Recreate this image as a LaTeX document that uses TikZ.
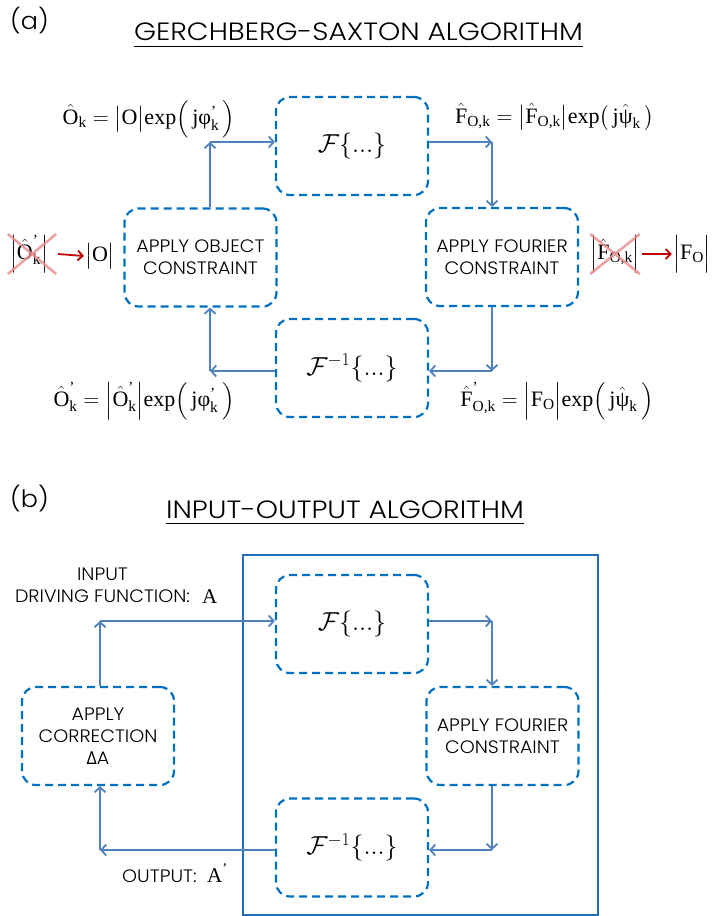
\documentclass[tikz,border=0pt]{standalone}
\usepackage{fix-cm}
\usepackage{amsmath}
\usepackage{fontspec}
\setmainfont{Liberation Serif}
\newfontfamily\gothic{Poppins Light}[FakeStretch=1.06]
\newfontfamily\gothictitle{Poppins Light}[FakeStretch=1.13]
\newfontfamily\greek{Open Sans}
\usetikzlibrary{arrows.meta, positioning, calc}
\definecolor{boxblue}{RGB}{0,112,192}
\definecolor{arrowblue}{RGB}{79,129,189}
\definecolor{frameblue}{RGB}{30,110,185}
\definecolor{darkred}{RGB}{192,0,0}
\definecolor{crossred}{RGB}{232,140,140}
\newcommand{\tx}[1]{\text{#1}}
\newcommand{\prm}{^{\text{'}}}

\begin{document}
\begin{tikzpicture}[x=1pt,y=-1pt,
	stepbox/.style={draw=boxblue, line width=2.2pt, dash pattern=on 8pt off 5pt,
		rounded corners=14pt, minimum width=152pt, minimum height=98pt,
		inner sep=0pt, align=center, font=\gothic\fontsize{18}{22}\selectfont},
	opbox/.style={stepbox, font=\fontsize{26}{30}\selectfont},
	link/.style={draw=arrowblue, line width=1.8pt, -{Straight Barb[length=5pt,width=11pt]}},
	redlink/.style={draw=darkred, line width=1.8pt, -{Straight Barb[length=5pt,width=10pt]}},
	crossout/.style={draw=crossred, line width=2.6pt, opacity=0.8},
	formula/.style={inner sep=0pt, font=\fontsize{22}{26}\selectfont},
	lbl/.style={inner sep=0pt, align=center, font=\gothic\fontsize{18}{22}\selectfont},
	partlbl/.style={inner sep=0pt, font=\gothic\fontsize{24}{28}\selectfont},
	heading/.style={inner sep=0pt, font=\gothictitle\fontsize{25}{28}\selectfont},
	uline/.style={line width=1.6pt},
	var/.style={inner sep=0pt, font=\fontsize{21}{24}\selectfont}
	]
	\useasboundingbox (0,0) rectangle (716,916);

	% (a) Gerchberg-Saxton
	\node[partlbl, anchor=north west] (parta) at (10,7) {(a)};
	\node[heading, anchor=base] (gstitle) at (358.5,40) {GERCHBERG-SAXTON ALGORITHM};
	\draw[uline] ([yshift=-6.5pt]gstitle.base west) -- ([yshift=-6.5pt]gstitle.base east);

	\node[opbox] (fa) at (352,146) {$\mathcal{F}\{...\}$};
	\node[stepbox] (ao) at (200.5,257.5) {APPLY OBJECT\\CONSTRAINT};
	\node[stepbox] (af) at (502,257) {APPLY FOURIER\\CONSTRAINT};
	\node[opbox] (fia) at (352,368) {$\mathcal{F}^{-1}\{...\}$};

	\coordinate (a1) at (210,142);
	\coordinate (a2) at (492,142);
	\coordinate (a3) at (492,371);
	\coordinate (a4) at (210,371);
	\draw[link] (ao.north -| a1) -- (a1);
	\draw[link] (a1) -- (fa.west |- a1);
	\draw[link] (fa.east |- a2) -- (a2);
	\draw[link] (a2) -- (af.north -| a2);
	\draw[link] (af.south -| a3) -- (a3);
	\draw[link] (a3) -- (fia.east |- a3);
	\draw[link] (fia.west |- a4) -- (a4);
	\draw[link] (a4) -- (ao.south -| a4);

	\node[formula] (ok) at (149,119)
		{$\hat{\tx{O}}_{\tx{k}} = \big|\tx{O}\big|\tx{exp}\Bigl(\,\tx{j}\tx{φ}\prm_{\tx{k}}\,\Bigr)$};
	\node[formula] (fk) at (554.5,117)
		{$\hat{\tx{F}}_{\tx{O,k}} = \big|\hat{\tx{F}}_{\tx{O,k}}\big|\tx{exp}\bigl(\,\tx{j}\hat{\tx{ψ}}_{\tx{k}}\,\bigr)$};
	\node[formula] (okp) at (144,401)
		{$\hat{\tx{O}}\prm_{\tx{k}} = \Big|\hat{\tx{O}}\prm_{\tx{k}}\Big|\tx{exp}\Bigl(\,\tx{j}\tx{φ}\prm_{\tx{k}}\,\Bigr)$};
	\node[formula] (fkp) at (557,401)
		{$\hat{\tx{F}}\prm_{\tx{O,k}} = \Big|\tx{F}_{\tx{O}}\Big|\tx{exp}\Bigl(\,\tx{j}\hat{\tx{ψ}}_{\tx{k}}\,\Bigr)$};

	% replaced magnitudes
	\node[formula] (oold) at (29,254) {$\Big|\hat{\tx{O}}\prm_{\tx{k}}\Big|$};
	\node[formula] (onew) at (100,256) {$\big|\tx{O}\big|$};
	\draw[crossout] ([xshift=-2pt]oold.south west) -- ([xshift=8pt]oold.north east);
	\draw[crossout] ([xshift=-2pt]oold.north west) -- ([xshift=8pt]oold.south east);
	\draw[redlink] ([xshift=10pt]oold.east) -- ([xshift=-1pt]onew.west);

	\node[formula] (fold) at (615,254) {$\Big|\hat{\tx{F}}_{\tx{O,k}}\Big|$};
	\node[formula] (fnew) at (692,254) {$\Big|\tx{F}_{\tx{O}}\Big|$};
	\draw[crossout] (fold.south west) -- (fold.north east);
	\draw[crossout] (fold.north west) -- (fold.south east);
	\draw[redlink] ([xshift=2pt]fold.east) -- ([xshift=-1pt]fnew.west);

	% (b) Input-output
	\node[partlbl, anchor=north west] (partb) at (10,485) {(b)};
	\node[heading, anchor=base] (iotitle) at (345,518) {INPUT-OUTPUT ALGORITHM};
	\draw[uline] ([yshift=-5.5pt]iotitle.base west) -- ([yshift=-5.5pt]iotitle.base east);

	\draw[draw=frameblue, line width=2.2pt] (243,555) rectangle (598,915);

	\node[opbox] (fb) at (352,624) {$\mathcal{F}\{...\}$};
	\node[stepbox] (afb) at (502.5,736) {APPLY FOURIER\\CONSTRAINT};
	\node[opbox] (fib) at (352,847.5) {$\mathcal{F}^{-1}\{...\}$};
	\node[stepbox] (ac) at (98,736) {APPLY\\CORRECTION\\{\greek Δ}A};

	\coordinate (b1) at (100,621);
	\coordinate (b2) at (492,621);
	\coordinate (b3) at (492,850);
	\coordinate (b4) at (100,850);
	\draw[link] (ac.north -| b1) -- (b1);
	\draw[link] (b1) -- (fb.west |- b1);
	\draw[link] (fb.east |- b2) -- (b2);
	\draw[link] (b2) -- (afb.north -| b2);
	\draw[link] (afb.south -| b3) -- (b3);
	\draw[link] (b3) -- (fib.east |- b3);
	\draw[link] (fib.west |- b4) -- (b4);
	\draw[link] (b4) -- (ac.south -| b4);

	\node[lbl, anchor=north] (inlbl) at (102.5,568) {INPUT\\DRIVING FUNCTION:};
	\node[var, anchor=base west] (avar) at (202,603) {A};
	\node[lbl, anchor=base west] (outlbl) at (122,882) {OUTPUT:};
	\node[var, anchor=base west] (aout) at (207,882) {$\tx{A}\prm$};
\end{tikzpicture}
\end{document}
